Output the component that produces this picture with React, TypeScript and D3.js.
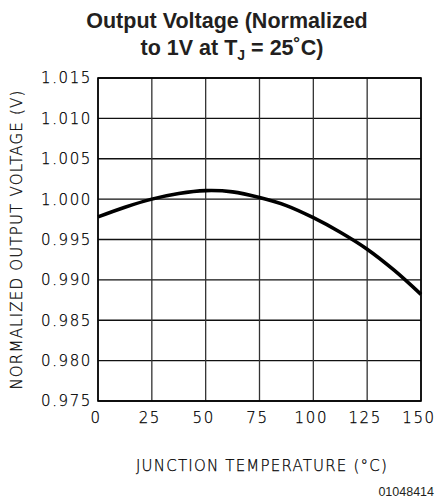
import React from 'react';
import * as d3 from 'd3';

// junction temperature (°C) vs normalized output voltage (V)
const temps = [0, 12.5, 25, 37.5, 50, 62.5, 75, 87.5, 100, 112.5, 125, 137.5, 150];
const voltage = [0.9978, 0.999, 1.0, 1.0007, 1.00105, 1.0009, 1.0002, 0.9992, 0.9977, 0.9959, 0.9938, 0.9912, 0.9882];

const xTicks = [0, 25, 50, 75, 100, 125, 150];
const yTicks = [0.975, 0.98, 0.985, 0.99, 0.995, 1.0, 1.005, 1.01, 1.015];

const W = 438;
const H = 502;
const left = 98;
const right = 421;
const top = 78;
const bottom = 401;

const tickFont = '"DejaVu Sans", sans-serif';
const labelFont = '"DejaVu Sans", sans-serif';

export default function App() {
  const x = d3.scaleLinear().domain([0, 150]).range([left, right]);
  const y = d3.scaleLinear().domain([0.975, 1.015]).range([bottom, top]);

  const line = d3
    .line<number>()
    .x((_, i) => x(temps[i]))
    .y(d => y(d))
    .curve(d3.curveCatmullRom.alpha(0.5));

  return (
    <svg width={W} height={H} style={{ position: 'absolute', left: 0, top: 0, background: '#fff' }}>
      {/* title */}
      <g fontFamily='"Liberation Sans", Arial, sans-serif' fontWeight="bold" fontSize={21.5} fill="#231f20" textAnchor="middle">
        <text x={227} y={28}>Output Voltage (Normalized</text>
        <text x={232} y={55}>
          to 1V at T<tspan fontSize={14} dy={5}>J</tspan>
          <tspan dy={-5}> = 25˚C)</tspan>
        </text>
      </g>

      {/* grid */}
      <g stroke="#111" strokeWidth={1.3}>
        {yTicks.map(t => (
          <line key={'h' + t} x1={left} x2={right} y1={y(t)} y2={y(t)} />
        ))}
        {xTicks.map(t => (
          <line key={'v' + t} x1={x(t)} x2={x(t)} y1={top} y2={bottom} stroke="#333" />
        ))}
      </g>
      <rect x={left} y={top} width={right - left} height={bottom - top} fill="none" stroke="#000" strokeWidth={1.6} />

      {/* curve */}
      <path d={line(voltage) || ''} fill="none" stroke="#000" strokeWidth={3.6} strokeLinecap="butt" />

      {/* y ticks */}
      <g fontFamily={tickFont} fontWeight={200} fontSize={15} fill="#000" stroke="#000" strokeWidth={0.25} textAnchor="end" letterSpacing={1.6}>
        {yTicks.map(t => (
          <text key={'yl' + t} x={left - 6} y={y(t)} dy="0.36em">
            {d3.format('.3f')(t)}
          </text>
        ))}
      </g>

      {/* x ticks */}
      <g fontFamily={tickFont} fontWeight={200} fontSize={15} fill="#000" stroke="#000" strokeWidth={0.25} textAnchor="middle" letterSpacing={1.6}>
        {xTicks.map(t => (
          <text key={'xl' + t} x={x(t) - 2} y={bottom + 22}>
            {t}
          </text>
        ))}
      </g>

      {/* axis titles */}
      <g fontFamily={labelFont} fontWeight={200} fontSize={15} fill="#000" stroke="#000" strokeWidth={0.25} letterSpacing={1.2} textAnchor="middle">
        <text x={262} y={471}>
          JUNCTION TEMPERATURE (°C)
        </text>
        <text transform={`translate(22, ${(top + bottom) / 2}) rotate(-90)`}>
          NORMALIZED OUTPUT VOLTAGE (V)
        </text>
      </g>

      <text x={434} y={496} textAnchor="end" fontFamily='"Liberation Sans", Arial, sans-serif' fontSize={12.5} fill="#231f20">
        01048414
      </text>
    </svg>
  );
}
